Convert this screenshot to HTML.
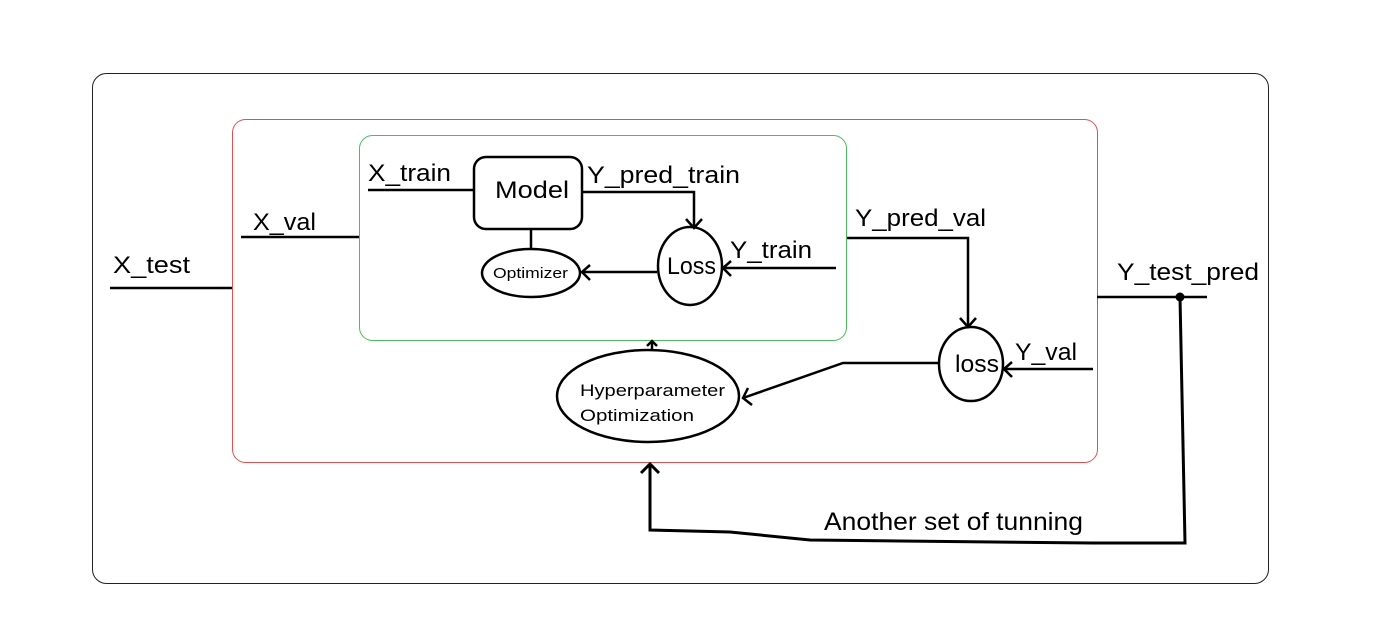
<!DOCTYPE html>
<html><head><style>body{margin:0;background:#fff}svg{display:block}</style></head><body>
<svg width="1400" height="625" viewBox="0 0 1400 625" xmlns="http://www.w3.org/2000/svg" font-family="Liberation Sans, sans-serif">
<rect x="92.5" y="73.5" width="1176" height="510" rx="14" fill="none" stroke="#222" stroke-width="1"/>
<rect x="232.5" y="119.5" width="865" height="343" rx="13" fill="none" stroke="#e05050" stroke-width="1"/>
<rect x="359.5" y="135.5" width="487" height="205" rx="13" fill="none" stroke="#4cbb5c" stroke-width="1"/>
<g stroke="#000" stroke-width="2.5" fill="none">
<rect x="474" y="157" width="108" height="72" rx="12"/>
<line x1="368" y1="190" x2="474" y2="190"/>
<polyline points="582,192 694,192 694,227"/>
<polyline points="686,219 694,228 702,219"/>
<ellipse cx="690" cy="266" rx="32" ry="39"/>
<ellipse cx="531" cy="273" rx="49" ry="24"/>
<line x1="531" y1="229" x2="531" y2="249"/>
<line x1="657" y1="272" x2="582" y2="272"/>
<polyline points="590,265 582,272 590,280"/>
<line x1="836" y1="268" x2="723" y2="268"/>
<polyline points="731,261 723,268 731,276"/>
<line x1="241" y1="237" x2="359" y2="237"/>
<line x1="110" y1="288" x2="232" y2="288"/>
<polyline points="847,238 968,238 968,326"/>
<polyline points="960,318 968,327 976,318"/>
<ellipse cx="971" cy="364" rx="32" ry="37"/>
<line x1="1093" y1="369" x2="1004" y2="369"/>
<polyline points="1012,362 1004,369 1012,377"/>
<polyline points="939,363 843,363 743,398"/>
<polyline points="748,388 743,398 752,405"/>
<ellipse cx="648" cy="396" rx="91" ry="46"/>
<line x1="652" y1="350" x2="652" y2="341"/>
<polyline points="647,346 652,341 657,346"/>
<line x1="1097" y1="297" x2="1207" y2="297"/>
<polyline points="1180,297 1185,543 1092,543 810,540 730,532 650,530 650,464" stroke-width="3"/>
<polyline points="641,473 650,464 659,473" stroke-width="3"/>
</g>
<circle cx="1180" cy="297" r="4.5" fill="#000"/>
<g font-size="24" fill="#000" lengthAdjust="spacingAndGlyphs">
<text x="368" y="181" textLength="83" lengthAdjust="spacingAndGlyphs">X_train</text>
<text x="495" y="198" textLength="74" lengthAdjust="spacingAndGlyphs">Model</text>
<text x="587" y="183" textLength="153" lengthAdjust="spacingAndGlyphs">Y_pred_train</text>
<text x="730" y="258" textLength="82" lengthAdjust="spacingAndGlyphs">Y_train</text>
<text x="667" y="274" textLength="49" lengthAdjust="spacingAndGlyphs">Loss</text>
<text x="253" y="230" textLength="63" lengthAdjust="spacingAndGlyphs">X_val</text>
<text x="113" y="273" textLength="77" lengthAdjust="spacingAndGlyphs">X_test</text>
<text x="855" y="226" textLength="131" lengthAdjust="spacingAndGlyphs">Y_pred_val</text>
<text x="955" y="372" textLength="44" lengthAdjust="spacingAndGlyphs">loss</text>
<text x="1015" y="360" textLength="62" lengthAdjust="spacingAndGlyphs">Y_val</text>
<text x="1117" y="280" textLength="142" lengthAdjust="spacingAndGlyphs">Y_test_pred</text>
<text x="824" y="530" font-size="25" textLength="259" lengthAdjust="spacingAndGlyphs">Another set of tunning</text>
</g>
<text x="493" y="278" font-size="15" textLength="75" lengthAdjust="spacingAndGlyphs">Optimizer</text>
<text x="580" y="396" font-size="17" textLength="145" lengthAdjust="spacingAndGlyphs">Hyperparameter</text>
<text x="580" y="421" font-size="17" textLength="114" lengthAdjust="spacingAndGlyphs">Optimization</text>
</svg>
</body></html>
